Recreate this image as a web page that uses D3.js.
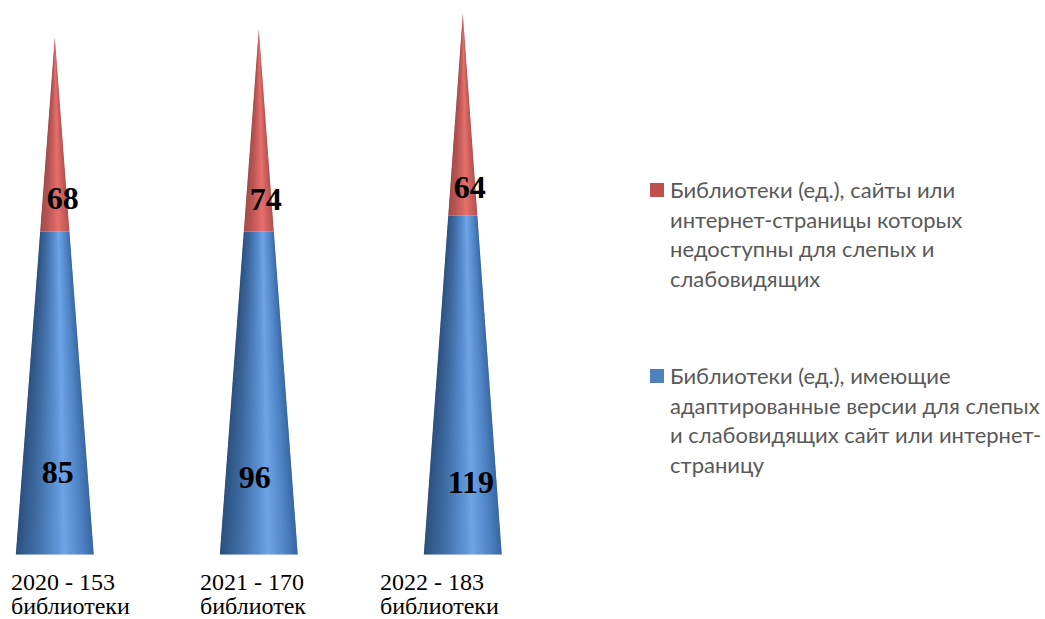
<!DOCTYPE html>
<html>
<head>
<meta charset="utf-8">
<script src="https://cdn.jsdelivr.net/npm/d3@7"></script>
<style>
  html, body { margin: 0; padding: 0; background: #fff; }
  svg { display: block; }
</style>
</head>
<body>
<div id="vue"></div>
<script>
var width = 1045, height = 619;

var years = ["2020", "2021", "2022"];
var catLine1 = ["2020 - 153", "2021 - 170", "2022 - 183"];
var catLine2 = ["библиотеки", "библиотек", "библиотеки"];

// printed labels
var accessibleLabels = [85, 96, 119];
var inaccessibleLabels = [68, 74, 64];

// the cones in the picture are not drawn to their labels, so the drawn lengths are read apart
var accessibleHeights = [107.7, 107.7, 113];
var inaccessibleHeights = [64.8, 67.5, 67.5];

var legendRed = ["Библиотеки (ед.), сайты или", "интернет-страницы которых", "недоступны для слепых и", "слабовидящих"];
var legendBlue = ["Библиотеки (ед.), имеющие", "адаптированные версии для слепых", "и слабовидящих сайт или интернет-", "страницу"];

var svg = d3.select("#vue").append("svg")
  .attr("width", width)
  .attr("height", height);

var x = d3.scaleBand().domain(years).range([-47.2, 564.8]).paddingInner(0.6176).paddingOuter(0.3088);
var y = d3.scaleLinear().domain([0, 181]).range([554.5, 11.5]);

var defs = svg.append("defs");

function addGradient(id, stops) {
  var g = defs.append("linearGradient").attr("id", id);
  stops.forEach(function (s) {
    g.append("stop").attr("offset", s[0]).attr("stop-color", s[1]);
  });
}
addGradient("blueShade", [[0, "#2b4f7e"], [0.25, "#3f6ca4"], [0.5, "#5a90d2"], [0.62, "#6ea4e6"], [0.85, "#4d82c4"], [1, "#37669f"]]);
addGradient("redShade", [[0, "#a04a48"], [0.25, "#b85654"], [0.5, "#d96663"], [0.62, "#e66f6b"], [0.85, "#c55c59"], [1, "#ac504e"]]);

// width of a cone at a given value, from its base to its tip
function coneWidth(total, v) {
  return x.bandwidth() * (1 - v / total);
}

function drawSegment(i, from, to, total, shade, key) {
  var cx = x(years[i]) + x.bandwidth() / 2;
  var wFrom = coneWidth(total, from), wTo = coneWidth(total, to);
  var id = "clip-" + key + "-" + i;
  var outline = d3.line()([
    [cx - wFrom / 2, y(from)], [cx + wFrom / 2, y(from)],
    [cx + wTo / 2, y(to)], [cx - wTo / 2, y(to)]
  ]) + "Z";

  defs.append("clipPath").attr("id", id).append("path").attr("d", outline);

  // thin rows, each with the gradient fitted to its own width, so the shading narrows with the cone
  var rows = d3.range(Math.floor(y(to)), Math.ceil(y(from)));
  svg.append("g").attr("clip-path", "url(#" + id + ")")
    .selectAll("rect").data(rows).enter().append("rect")
    .attr("x", function (r) { return cx - coneWidth(total, y.invert(r + 0.5)) / 2 - 0.5; })
    .attr("width", function (r) { return coneWidth(total, y.invert(r + 0.5)) + 1; })
    .attr("y", function (r) { return r; })
    .attr("height", 1.2)
    .attr("fill", "url(#" + shade + ")");
}

years.forEach(function (yr, i) {
  var blue = accessibleHeights[i], total = blue + inaccessibleHeights[i];
  drawSegment(i, 0, blue, total, "blueShade", "blue");
  drawSegment(i, blue, total, total, "redShade", "red");
});

// value labels, placed by hand in the original so they sit off centre
function valueLabels(labels, xOff, yOf) {
  svg.append("g").selectAll("text").data(labels).enter().append("text")
    .attr("x", function (d, i) { return x(years[i]) + x.bandwidth() / 2 + xOff[i]; })
    .attr("y", function (d, i) { return yOf[i]; })
    .attr("text-anchor", "middle")
    .attr("font-family", "'Liberation Serif', serif")
    .attr("font-weight", "bold")
    .attr("font-size", 32)
    .attr("fill", "#000")
    .text(function (d) { return d; });
}
valueLabels(accessibleLabels, [3, -4, 8], [483, 488, 493]);
valueLabels(inaccessibleLabels, [8, 7, 7], [209, 210, 198]);

// category labels
var catX = [11, 200, 380];
[catLine1, catLine2].forEach(function (lines, k) {
  svg.append("g").selectAll("text").data(lines).enter().append("text")
    .attr("x", function (d, i) { return catX[i]; })
    .attr("y", 589.5 + k * 24.5)
    .attr("font-family", "'Liberation Serif', serif")
    .attr("font-size", 24)
    .attr("fill", "#000")
    .text(function (d) { return d; });
});

// legend
function legendBlock(lines, color, top) {
  svg.append("rect")
    .attr("x", 650).attr("y", top - 15).attr("width", 14).attr("height", 14)
    .attr("fill", color);
  svg.append("g").selectAll("text").data(lines).enter().append("text")
    .attr("x", 670)
    .attr("y", function (d, i) { return top + i * 29.5; })
    .attr("font-family", "Lato, 'Open Sans', sans-serif")
    .attr("font-size", 22)
    .attr("fill", "#595959")
    .text(function (d) { return d; });
}
legendBlock(legendRed, "#c0504d", 198);
legendBlock(legendBlue, "#4f81bd", 384);
</script>
</body>
</html>
